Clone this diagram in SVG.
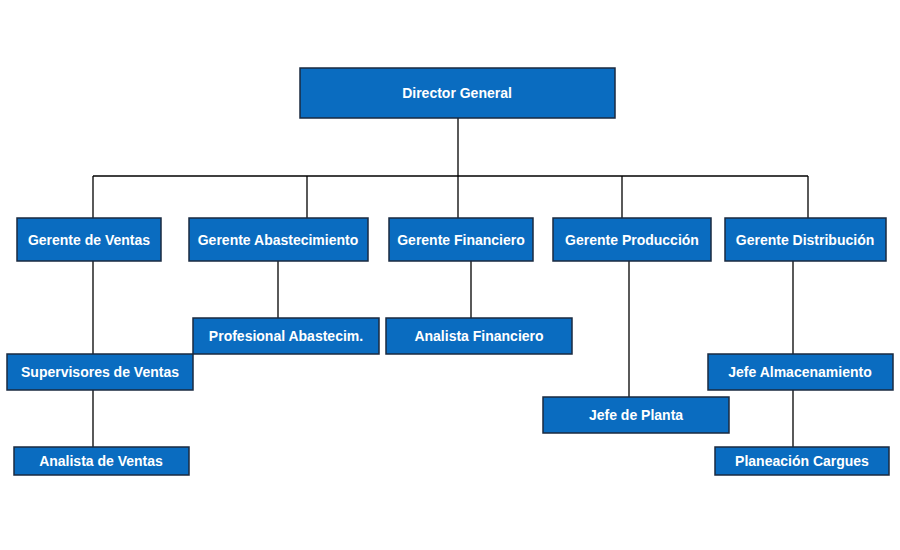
<svg xmlns="http://www.w3.org/2000/svg" width="900" height="550" viewBox="0 0 900 550">
<style>
.n rect{fill:#0a6cc0;stroke:#1a2a40;stroke-width:1.5}
.n text{fill:#fff;font-family:"Liberation Sans",Arial,sans-serif;font-weight:bold;font-size:14px;text-anchor:middle;dominant-baseline:central}
.c line{stroke:#000;stroke-width:1.3}
</style>
<rect width="900" height="550" fill="#fff"/>
<g class="c">
<line x1="458" y1="118" x2="458" y2="218"/>
<line x1="93" y1="176" x2="808" y2="176"/>
<line x1="93" y1="176" x2="93" y2="447"/>
<line x1="307" y1="176" x2="307" y2="218"/>
<line x1="622" y1="176" x2="622" y2="218"/>
<line x1="808" y1="176" x2="808" y2="218"/>
<line x1="278" y1="261" x2="278" y2="318"/>
<line x1="471" y1="261" x2="471" y2="318"/>
<line x1="629" y1="261" x2="629" y2="397"/>
<line x1="793" y1="261" x2="793" y2="447"/>
</g>
<g id="director" class="n"><rect x="300" y="68" width="315" height="50"/><text x="457" y="93">Director General</text></g>
<g id="gventas" class="n"><rect x="17" y="218" width="144" height="43"/><text x="89" y="240">Gerente de Ventas</text></g>
<g id="gabast" class="n"><rect x="189" y="218" width="179" height="43"/><text x="278" y="240">Gerente Abastecimiento</text></g>
<g id="gfin" class="n"><rect x="389" y="218" width="144" height="43"/><text x="461" y="240">Gerente Financiero</text></g>
<g id="gprod" class="n"><rect x="553" y="218" width="158" height="43"/><text x="632" y="240">Gerente Producción</text></g>
<g id="gdist" class="n"><rect x="725" y="218" width="161" height="43"/><text x="805" y="240">Gerente Distribución</text></g>
<g id="profabast" class="n"><rect x="193" y="318" width="186" height="36"/><text x="286" y="336">Profesional Abastecim.</text></g>
<g id="anafin" class="n"><rect x="386" y="318" width="186" height="36"/><text x="479" y="336">Analista Financiero</text></g>
<g id="superv" class="n"><rect x="7" y="354" width="186" height="36"/><text x="100" y="372">Supervisores de Ventas</text></g>
<g id="jalm" class="n"><rect x="708" y="354" width="185" height="36"/><text x="800" y="372">Jefe Almacenamiento</text></g>
<g id="jplanta" class="n"><rect x="543" y="397" width="186" height="36"/><text x="636" y="415">Jefe de Planta</text></g>
<g id="anaventas" class="n"><rect x="14" y="447" width="175" height="28"/><text x="101" y="461">Analista de Ventas</text></g>
<g id="planea" class="n"><rect x="715" y="447" width="174" height="28"/><text x="802" y="461">Planeación Cargues</text></g>
</svg>
